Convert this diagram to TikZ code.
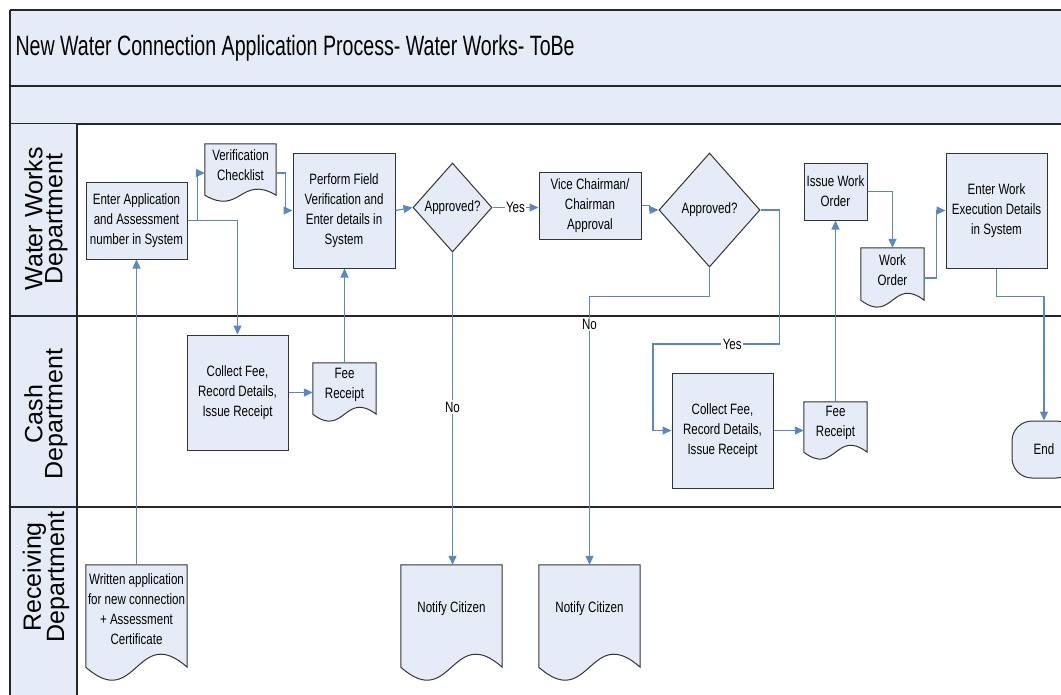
\documentclass[tikz,border=0pt]{standalone}
\usepackage{fontspec}
\setmainfont{Liberation Sans}
\newfontfamily\narrowfont{Liberation Sans}[FakeStretch=0.77]
\newfontfamily\titlefont{Liberation Sans}[FakeStretch=0.70]
\usetikzlibrary{arrows.meta,calc,shapes.geometric,backgrounds}

\definecolor{shapefill}{HTML}{E6ECF7}
\definecolor{flowblue}{HTML}{5A87C6}
\definecolor{edgegray}{HTML}{333333}

\tikzset{
  every node/.style={font=\narrowfont\fontsize{15}{20}\selectfont},
  frame/.style={draw=black!85, line width=1.4pt},
  procbox/.style={draw=edgegray, fill=shapefill, line width=1pt, align=center, inner sep=2pt},
  decision/.style={diamond, draw=edgegray, fill=shapefill, line width=1pt, align=center, inner sep=0pt},
  docnode/.style={align=center, inner sep=1pt},
  docshape/.style={draw=edgegray, fill=shapefill, line width=1pt},
  terminal/.style={draw=edgegray, fill=shapefill, line width=1pt, rounded corners=20pt},
  flow/.style={draw=flowblue, line width=1.2pt, -{Triangle[length=9pt,width=8pt]}},
  lbl/.style={fill=white, inner sep=1.5pt},
  lanetext/.style={rotate=90, align=center, font=\fontsize{25}{20}\selectfont},
  sz/.style 2 args={minimum width=#1pt, minimum height=#2pt},
}

% document symbol with a wavy lower edge, drawn behind its text node
\newcommand\drawdoc[3]{%
  \begin{scope}[on background layer]
    \draw[docshape] (#1.north west) -- (#1.north east) -- ([yshift=-#2pt]#1.south east)
      .. controls ([yshift=-#2pt+#3pt]#1.south) and ([yshift=-#2pt-#3pt]#1.south)
      .. ([yshift=-#2pt]#1.south west) -- cycle;
  \end{scope}}

\begin{document}
\begin{tikzpicture}[x=1pt,y=-1pt]
\useasboundingbox (0,0) rectangle (1061,694);
\clip (0,0) rectangle (1061,694);

% header bands
\fill[shapefill] (10,10) rectangle (1090,124);
\draw[frame] (10,10) -- (1090,10);
\draw[frame] (10,86) -- (1090,86);
\draw[frame] (10,124) -- (1090,124);
% lane headers
\fill[shapefill] (10,124) rectangle (77,700);
\draw[frame] (10,316) -- (1090,316);
\draw[frame] (10,507) -- (1090,507);
\draw[frame] (10,10) -- (10,700);
\draw[frame] (77,124) -- (77,700);

\node[anchor=base west, font=\titlefont\fontsize{28}{30}\selectfont] (title) at (12,55)
  {New Water Connection Application Process- Water Works- ToBe};

\node[lanetext] (laneww) at (46,219) {Water Works\\Department};
\node[lanetext] (lanecash) at (46,414) {Cash\\Department};
\node[lanetext] (lanerecv) at (46,577) {Receiving\\Department};

% Water Works Department
\node[procbox, sz={101}{77}] (ea) at (136.5,220.5) {Enter Application\\and Assessment\\number in System};
\node[docnode, sz={71}{42}] (vc) at (240.5,165) {Verification\\Checklist};
\drawdoc{vc}{9}{21}
\node[procbox, sz={102}{115}] (pf) at (344,210.5) {Perform Field\\Verification and\\Enter details in\\System};
\node[decision, sz={79}{89}] (d1) at (452.5,207.5) {Approved?};
\node[procbox, sz={102}{67}] (vp) at (590,205.5) {Vice Chairman/\\Chairman\\Approval};
\node[decision, sz={101}{114}] (d2) at (709.5,210) {Approved?};
\node[procbox, sz={63}{57}] (iw) at (835.5,191.5) {Issue Work\\Order};
\node[docnode, sz={63}{44}] (wo) at (892.5,270) {Work\\Order};
\drawdoc{wo}{8}{24}
\node[procbox, sz={101}{115}] (ew) at (996.5,210.5) {Enter Work\\Execution Details\\in System};

% Cash Department
\node[procbox, sz={101}{115}] (cf1) at (237.5,392.5) {Collect Fee,\\Record Details,\\Issue Receipt};
\node[docnode, sz={63}{44}] (fr1) at (344.5,385) {Fee\\Receipt};
\drawdoc{fr1}{7}{24}
\node[procbox, sz={101}{115}] (cf2) at (722.5,430.5) {Collect Fee,\\Record Details,\\Issue Receipt};
\node[docnode, sz={63}{42}] (fr2) at (835.5,423) {Fee\\Receipt};
\drawdoc{fr2}{8}{24}
\node[terminal, sz={64}{57}] (endt) at (1044,449.5) {End};

% Receiving Department
\node[docnode, sz={101}{88}] (wa) at (136.5,609) {Written application\\for new connection\\+ Assessment\\Certificate};
\drawdoc{wa}{14}{45}
\node[docnode, sz={101}{88}] (n1) at (451.5,609) {Notify Citizen};
\drawdoc{n1}{14}{45}
\node[docnode, sz={101}{88}] (n2) at (589.5,609) {Notify Citizen};
\drawdoc{n2}{14}{45}

% connectors
\draw[flow] (wa.north) -- (ea.south);
\draw[flow] (ea.east) -| (cf1.north);
\coordinate (split) at ($(ea.east)+(10,0)$);
\draw[flow] (split) |- ([yshift=-8pt]vc.west);
\draw[flow] ([yshift=-8pt]vc.east) -- ++(9,0) |- (pf.west);
\draw[flow] (cf1.east) -- (cf1.east -| fr1.west);
\draw[flow] (fr1.north) -- (fr1.north |- pf.south);
\draw[flow] (pf.east) -- (d1.west);
\draw[flow] (d1.east) -- node[lbl]{Yes} (d1.east -| vp.west);
\draw[flow] (d1.south) -- node[lbl, pos=0.495]{No} (d1.south |- n1.north);
\draw[flow] (vp.east) -- ++(8,0) |- (d2.west);
\draw[flow] (d2.south) -- ++(0,29) -| node[lbl, pos=0.552]{No} (n2.north);
\coordinate (yesbend) at (653,344);
\draw[flow] (d2.east) -- ++(19,0) |- node[lbl, pos=0.687]{Yes} (yesbend) |- (cf2.west);
\draw[flow] (cf2.east) -- (cf2.east -| fr2.west);
\draw[flow] (fr2.north) -- (fr2.north |- iw.south);
\draw[flow] (iw.east) -| (wo.north);
\draw[flow] ([yshift=-8pt]wo.east) -- ++(12,0) |- (ew.west);
\draw[flow] (ew.south) -- ++(0,28) -| (endt.north);
\end{tikzpicture}
\end{document}
